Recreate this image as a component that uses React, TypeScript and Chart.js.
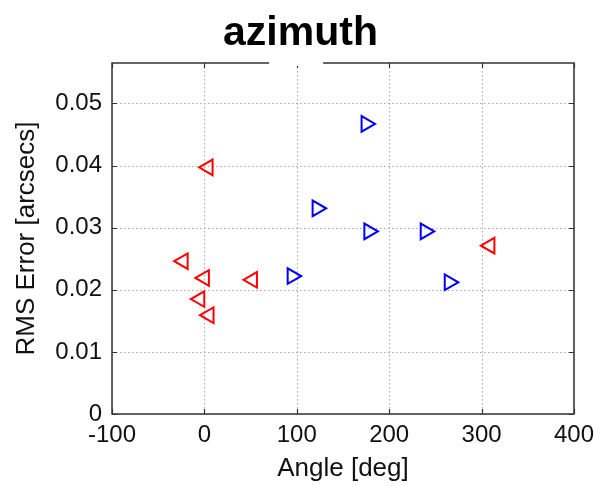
import React, { useEffect, useRef } from "react";
import { Chart, registerables } from "chart.js";

Chart.register(...registerables);

// Angle [deg] and RMS error [arcsecs] for the two marker groups
const redAngles = [4, -23, 0, 52, -5, 5, 309];
const redErrors = [0.0397, 0.0246, 0.0219, 0.0216, 0.0185, 0.0159, 0.0271];
const blueAngles = [95, 122, 175, 178, 239, 265];
const blueErrors = [0.0222, 0.0331, 0.0467, 0.0294, 0.0294, 0.0212];

const xTicks = [-100, 0, 100, 200, 300, 400];
const yTicks = [0, 0.01, 0.02, 0.03, 0.04, 0.05];

const titleText = "azimuth";
const xLabel = "Angle [deg]";
const yLabel = "RMS Error [arcsecs]";

const FONT = "'Liberation Sans', Arial, Helvetica, sans-serif";

// Centered bold title over the whole canvas
const titlePlugin = {
  id: "canvasTitle",
  afterDraw(chart: any) {
    const { ctx, width } = chart;
    ctx.save();
    ctx.font = `bold 41px ${FONT}`;
    ctx.fillStyle = "#000";
    ctx.textAlign = "center";
    ctx.textBaseline = "alphabetic";
    ctx.fillText(titleText, width / 2, 45);
    ctx.restore();
  },
};

// Dotted grid behind the markers
const dottedGridPlugin = {
  id: "dottedGrid",
  beforeDatasetsDraw(chart: any) {
    const { ctx, chartArea: a, scales } = chart;
    ctx.save();
    ctx.strokeStyle = "#a8a8a8";
    ctx.lineWidth = 1;
    ctx.setLineDash([1.5, 2.5]);
    ctx.beginPath();
    for (const v of xTicks) {
      const px = Math.round(scales.x.getPixelForValue(v)) + 0.5;
      ctx.moveTo(px, a.top);
      ctx.lineTo(px, a.bottom);
    }
    for (const v of yTicks) {
      const py = Math.round(scales.y.getPixelForValue(v)) + 0.5;
      ctx.moveTo(a.left, py);
      ctx.lineTo(a.right, py);
    }
    ctx.stroke();
    ctx.restore();
  },
};

// Box frame with inward tick marks on all four sides
const framePlugin = {
  id: "frame",
  afterDatasetsDraw(chart: any) {
    const { ctx, chartArea: a, scales } = chart;
    const x = scales.x;
    const y = scales.y;
    const len = 5;
    ctx.save();
    ctx.strokeStyle = "#333";
    ctx.lineWidth = 1.2;
    ctx.beginPath();
    for (const v of xTicks) {
      const px = Math.round(x.getPixelForValue(v)) + 0.5;
      ctx.moveTo(px, a.bottom);
      ctx.lineTo(px, a.bottom - len);
      ctx.moveTo(px, a.top);
      ctx.lineTo(px, a.top + len);
    }
    for (const v of yTicks) {
      const py = Math.round(y.getPixelForValue(v)) + 0.5;
      ctx.moveTo(a.left, py);
      ctx.lineTo(a.left + len, py);
      ctx.moveTo(a.right, py);
      ctx.lineTo(a.right - len, py);
    }
    ctx.stroke();
    ctx.lineWidth = 1.5;
    ctx.strokeRect(a.left, a.top, a.right - a.left, a.bottom - a.top);
    // gap in the top edge beneath the title
    ctx.fillStyle = "#fff";
    const g0 = x.getPixelForValue(70);
    const g1 = x.getPixelForValue(128.5);
    ctx.fillRect(g0, a.top - 3, g1 - g0, 6);
    ctx.restore();
  },
};

export default function App() {
  const canvasRef = useRef<HTMLCanvasElement | null>(null);

  useEffect(() => {
    if (!canvasRef.current) return;
    const chart = new Chart(canvasRef.current, {
      type: "scatter",
      data: {
        datasets: [
          {
            label: "red",
            data: redAngles.map((a, i) => ({ x: a, y: redErrors[i] })),
            pointStyle: "triangle",
            rotation: -90,
            radius: 9,
            borderColor: "#ff0000",
            backgroundColor: "rgba(0,0,0,0)",
            borderWidth: 2,
          },
          {
            label: "blue",
            data: blueAngles.map((a, i) => ({ x: a, y: blueErrors[i] })),
            pointStyle: "triangle",
            rotation: 90,
            radius: 9,
            borderColor: "#0000ff",
            backgroundColor: "rgba(0,0,0,0)",
            borderWidth: 2,
          },
        ],
      },
      options: {
        animation: false,
        responsive: true,
        maintainAspectRatio: false,
        layout: { padding: { top: 63, right: 27, bottom: 0, left: 0 } },
        plugins: {
          legend: { display: false },
          tooltip: { enabled: false },
          title: { display: false },
        },
        scales: {
          x: {
            type: "linear",
            min: -100,
            max: 400,
            afterBuildTicks: (s: any) => {
              s.ticks = xTicks.map((v) => ({ value: v }));
            },
            afterFit: (s: any) => {
              s.height = 72;
            },
            grid: { display: false, drawTicks: false, tickLength: 0 },
            border: { display: false },
            ticks: {
              padding: 7,
              color: "#111",
              font: { family: FONT, size: 24 },
              maxRotation: 0,
              callback: (v: any) => String(v),
            },
            title: {
              display: true,
              text: xLabel,
              color: "#111",
              font: { family: FONT, size: 26 },
              padding: { top: 0, bottom: 2 },
            },
          },
          y: {
            type: "linear",
            min: 0,
            max: 0.0565,
            afterBuildTicks: (s: any) => {
              s.ticks = yTicks.map((v) => ({ value: v }));
            },
            afterFit: (s: any) => {
              s.width = 112;
            },
            grid: { display: false, drawTicks: false, tickLength: 0 },
            border: { display: false },
            ticks: {
              padding: 10,
              color: "#111",
              font: { family: FONT, size: 24 },
              callback: (v: any) => (v === 0 ? "0" : Number(v).toFixed(2)),
            },
            title: {
              display: true,
              text: yLabel,
              color: "#111",
              font: { family: FONT, size: 26 },
              padding: { top: 11, bottom: 0 },
            },
          },
        },
      },
      plugins: [dottedGridPlugin, framePlugin, titlePlugin],
    });
    return () => chart.destroy();
  }, []);

  return (
    <div
      style={{
        position: "fixed",
        left: 0,
        top: 0,
        width: 601,
        height: 486,
        background: "#fff",
      }}
    >
      <canvas ref={canvasRef} />
    </div>
  );
}
